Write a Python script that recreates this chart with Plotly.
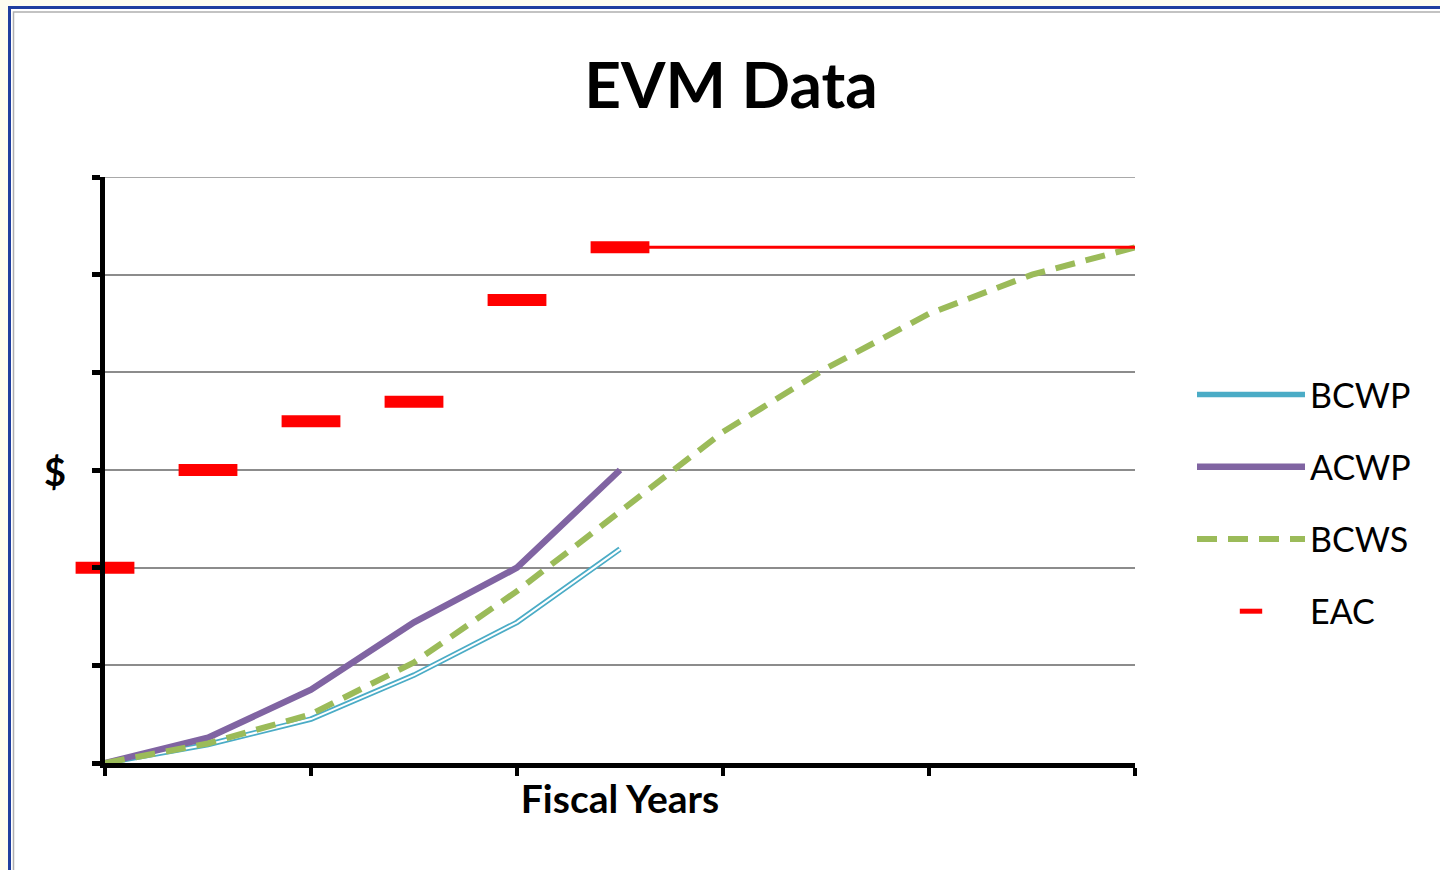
import plotly.graph_objects as go

# ---- data ----
years = [0, 1, 2, 3, 4, 5, 6, 7, 8, 9, 10]
bcwp_x = [0, 1, 2, 3, 4, 5]
bcwp = [0.0, 0.19, 0.45, 0.90, 1.44, 2.19]
acwp_x = [0, 1, 2, 3, 4, 5]
acwp = [0.0, 0.26, 0.75, 1.44, 2.0, 3.0]
bcws = [0.0, 0.20, 0.50, 1.03, 1.76, 2.58, 3.39, 4.04, 4.60, 5.0, 5.28]
eac_x = [0, 1, 2, 3, 4, 5]
eac = [2.0, 3.0, 3.5, 3.7, 4.74, 5.28]
eac_tail_x = [5, 10]
eac_tail = [5.28, 5.28]
y_grid = [0, 1, 2, 3, 4, 5, 6]
x_ticks = [0, 2, 4, 6, 8, 10]

FONT = "Lato"
L, R, T, B = 105, 305, 177, 107
W, H = 1440, 870
pw, ph = W - L - R, H - T - B

def px_x(p):
    return (p - L) / pw

def px_y(p):
    return (H - B - p) / ph

fig = go.Figure()

fig.add_trace(go.Scatter(x=bcwp_x, y=bcwp, mode="lines", name="BCWP",
                         line=dict(color="#4bacc6", width=5.5),
                         legendgroup="a"))
fig.add_trace(go.Scatter(x=bcwp_x, y=bcwp, mode="lines", showlegend=False,
                         line=dict(color="white", width=2),
                         legendgroup="a", hoverinfo="skip"))
fig.add_trace(go.Scatter(x=acwp_x, y=acwp, mode="lines", name="ACWP",
                         line=dict(color="#8064a2", width=6.5),
                         legendgroup="b"))
fig.add_trace(go.Scatter(x=years, y=bcws, mode="lines", name="BCWS",
                         line=dict(color="#9bbb59", width=6, dash="20px,11px"),
                         legendgroup="c"))
fig.add_trace(go.Scatter(x=eac_tail_x, y=eac_tail, mode="lines", showlegend=False,
                         line=dict(color="#ff0000", width=3),
                         legendgroup="d", hoverinfo="skip"))
fig.add_trace(go.Scatter(x=eac_x, y=eac, mode="markers", name="EAC",
                         marker=dict(symbol="line-ew", size=42, color="#ff0000",
                                     line=dict(color="#ff0000", width=12)),
                         cliponaxis=False, legendgroup="d"))

shapes = [
    # outer blue border
    dict(type="rect", xref="paper", yref="paper",
         x0=px_x(9.5), x1=px_x(1460), y0=px_y(890), y1=px_y(7.5),
         line=dict(color="#1f3f9f", width=3), fillcolor="white", layer="below"),
    # inner gray border
    dict(type="rect", xref="paper", yref="paper",
         x0=px_x(13.5), x1=px_x(1460), y0=px_y(890), y1=px_y(12),
         line=dict(color="#b0b0b0", width=1.5), layer="below"),
    # top gridline (plotly drops the one on the range edge)
    dict(type="line", xref="x", yref="y", x0=0, x1=10, y0=y_grid[-1], y1=y_grid[-1],
         line=dict(color="#8c8c8c", width=1.5), layer="below"),
]

annotations = [
    dict(text="<b>$</b>", xref="paper", yref="paper", x=px_x(55), y=px_y(471),
         xanchor="center", yanchor="middle", showarrow=False,
         font=dict(family=FONT, size=38, color="black")),
]

fig.update_layout(
    width=W, height=H,
    margin=dict(l=L, r=R, t=T, b=B, pad=0),
    paper_bgcolor="#fdfdf0",
    plot_bgcolor="rgba(0,0,0,0)",
    shapes=shapes,
    annotations=annotations,
    title=dict(text="<b>EVM Data</b>", x=731 / W, xanchor="center",
               y=1 - 86 / H, yanchor="middle",
               font=dict(family=FONT, size=64, color="black")),
    font=dict(family=FONT, color="black"),
    showlegend=True,
    legend=dict(x=px_x(1192), y=px_y(366), xanchor="left", yanchor="top",
                font=dict(family=FONT, size=34, color="black"),
                traceorder="grouped", tracegroupgap=25,
                itemwidth=108, bgcolor="rgba(0,0,0,0)"),
    xaxis=dict(range=[0, 10], showgrid=False, zeroline=False,
               showline=True, linecolor="black", linewidth=5,
               ticks="outside", tickcolor="black", tickwidth=4, ticklen=8,
               tickvals=x_ticks, showticklabels=False,
               title=dict(text="<b>Fiscal Years</b>", standoff=12,
                          font=dict(family=FONT, size=39, color="black"))),
    yaxis=dict(range=[0, 6], showgrid=True, gridcolor="#8c8c8c", gridwidth=1.5,
               zeroline=False, showline=True, linecolor="black", linewidth=5,
               ticks="outside", tickcolor="black", tickwidth=5, ticklen=8,
               tickvals=y_grid, showticklabels=False),
)

fig.write_html("out.html", config={"displayModeBar": False},
               post_script="document.body.style.margin='0';document.body.style.overflow='hidden';")
